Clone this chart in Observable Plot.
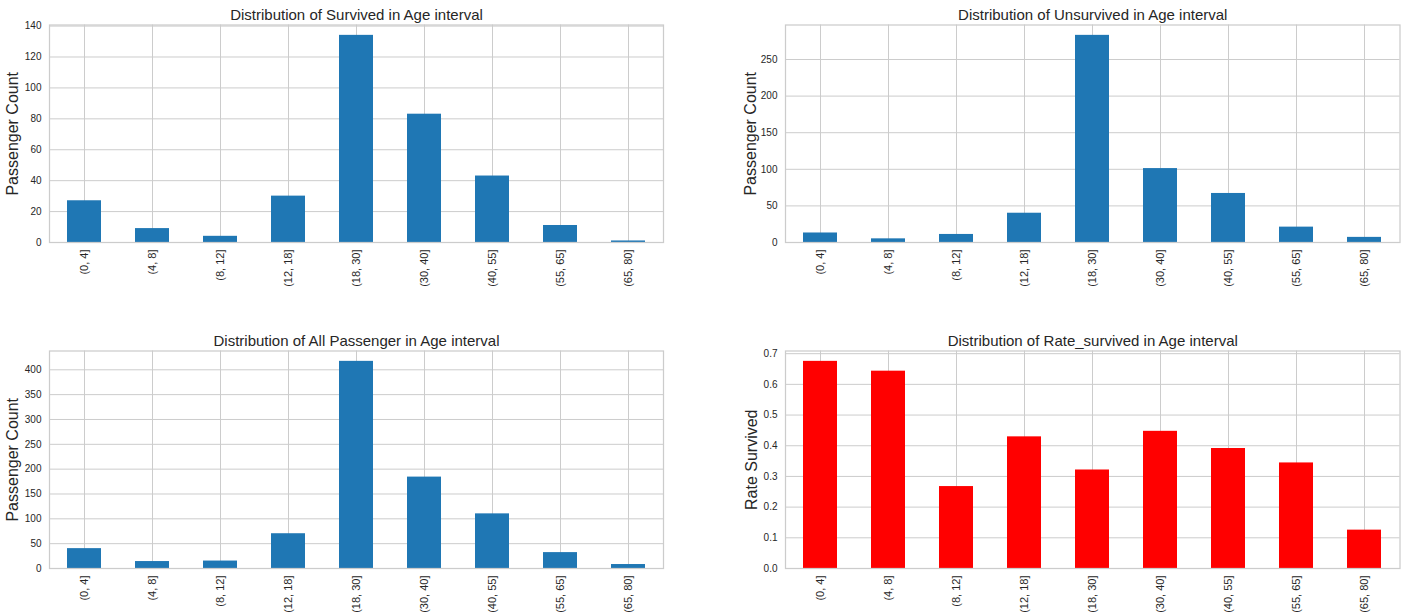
<!DOCTYPE html>
<html>
<head>
<meta charset="utf-8">
<script src="https://cdn.jsdelivr.net/npm/d3@7"></script>
<script src="https://cdn.jsdelivr.net/npm/@observablehq/plot@0.6"></script>
<style>
  html, body { margin: 0; padding: 0; background: #fff; }
  #root { position: relative; width: 1406px; height: 616px; overflow: hidden; }
  .panel { position: absolute; }
</style>
</head>
<body>
<div id="root"></div>
<script>
// ---- Data ----
const ageIntervals = ["(0, 4]", "(4, 8]", "(8, 12]", "(12, 18]", "(18, 30]", "(30, 40]", "(40, 55]", "(55, 65]", "(65, 80]"];
const survived   = [27, 9, 4, 30, 134, 83, 43, 11, 1];
const unsurvived = [13, 5, 11, 40, 283, 101, 67, 21, 7];
const allPassenger = [40, 14, 15, 70, 417, 184, 110, 32, 8];
const rateSurvived = [0.675, 0.643, 0.267, 0.429, 0.321, 0.447, 0.391, 0.344, 0.125];

const survivedTicks = [0, 20, 40, 60, 80, 100, 120, 140];
const unsurvivedTicks = [0, 50, 100, 150, 200, 250];
const allTicks = [0, 50, 100, 150, 200, 250, 300, 350, 400];
const rateTicks = [0, 0.1, 0.2, 0.3, 0.4, 0.5, 0.6, 0.7];

const GRID = "#cccccc";
const TEXT = "#262626";
const FONT = "'Liberation Sans', Arial, sans-serif";

function panel({values, color, yMax, ticks, fmt, yLabel, title, left, top, width, height, mt, mb, ml, mr, labelOffset}) {
  const data = ageIntervals.map((c, i) => ({c, v: values[i]}));
  const chart = Plot.plot({
    width, height,
    marginTop: mt, marginBottom: mb, marginLeft: ml, marginRight: mr,
    style: {fontFamily: FONT, fontSize: "10px", color: TEXT, background: "#fff", overflow: "visible"},
    x: {type: "band", domain: ageIntervals, paddingInner: 0.5, paddingOuter: 0.25},
    y: {domain: [0, yMax]},
    marks: [
      Plot.ruleX(ageIntervals, {x: d => d, stroke: GRID, strokeWidth: 1}),
      Plot.ruleY(ticks, {y: d => d, stroke: GRID, strokeWidth: 1}),
      Plot.barY(data, {x: "c", y: "v", fill: color}),
      Plot.frame({stroke: GRID, strokeWidth: 1.25}),
      Plot.axisY(ticks, {tickSize: 0, tickPadding: 8, label: null, tickFormat: fmt, fontSize: 10, fill: TEXT}),
      Plot.axisX({tickSize: 0, tickPadding: 7, tickRotate: -90, label: null, fontSize: 11, fill: TEXT}),
      Plot.text([yLabel], {frameAnchor: "left", dx: -labelOffset, rotate: -90, textAnchor: "middle", fontSize: 16, fill: TEXT, text: d => d}),
      Plot.text([title], {frameAnchor: "top", dy: -5, lineAnchor: "bottom", fontSize: 15, fill: TEXT, text: d => d})
    ]
  });
  chart.classList.add("panel");
  chart.style.left = left + "px";
  chart.style.top = top + "px";
  document.getElementById("root").appendChild(chart);
}

panel({values: survived, color: "#1f77b4", yMax: 140.7, ticks: survivedTicks, fmt: d => d,
  yLabel: "Passenger Count", title: "Distribution of Survived in Age interval",
  left: 0, top: 0, width: 700, height: 300, mt: 24.5, mb: 58, ml: 49, mr: 37, labelOffset: 37});
panel({values: unsurvived, color: "#1f77b4", yMax: 297.15, ticks: unsurvivedTicks, fmt: d => d,
  yLabel: "Passenger Count", title: "Distribution of Unsurvived in Age interval",
  left: 700, top: 0, width: 706, height: 300, mt: 24.5, mb: 58, ml: 85, mr: 6.5, labelOffset: 35});
panel({values: allPassenger, color: "#1f77b4", yMax: 437.85, ticks: allTicks, fmt: d => d,
  yLabel: "Passenger Count", title: "Distribution of All Passenger in Age interval",
  left: 0, top: 320, width: 700, height: 296, mt: 30.5, mb: 48, ml: 49, mr: 37, labelOffset: 37});
panel({values: rateSurvived, color: "#ff0000", yMax: 0.70875, ticks: rateTicks, fmt: d3.format(".1f"),
  yLabel: "Rate Survived", title: "Distribution of Rate_survived in Age interval",
  left: 700, top: 320, width: 706, height: 296, mt: 30.5, mb: 48, ml: 85, mr: 6.5, labelOffset: 34});
</script>
</body>
</html>
